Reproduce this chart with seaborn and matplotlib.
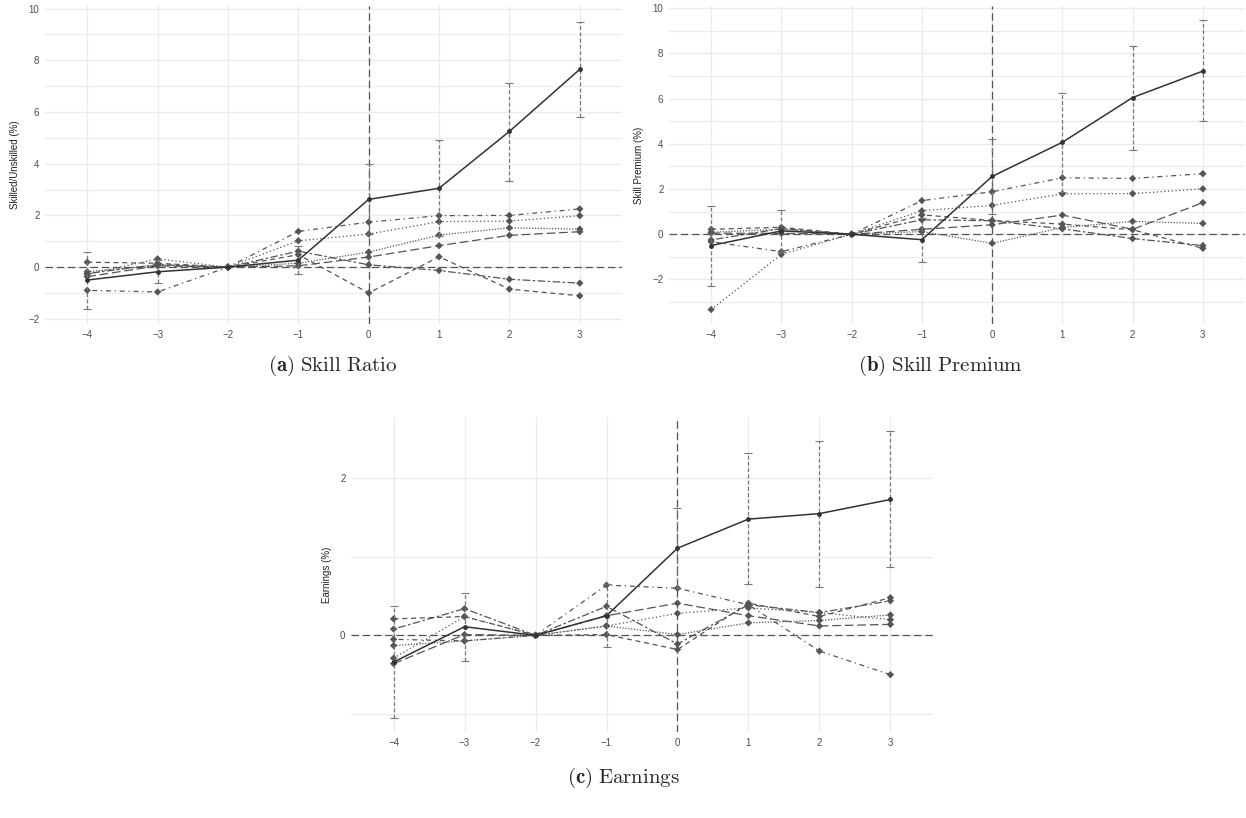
import matplotlib
matplotlib.use("Agg")
import matplotlib.pyplot as plt
import numpy as np
import pandas as pd
import seaborn as sns

# event time
periods = [-4, -3, -2, -1, 0, 1, 2, 3]
series_names = ["main", "s2", "s3", "s4", "s5", "s6", "s7"]

# (a) Skill Ratio
ratio_main = [-0.50, -0.18, 0.0, 0.27, 2.62, 3.05, 5.25, 7.65]
ratio_lo = [-1.63, -0.62, 0.0, -0.28, 1.30, 1.20, 3.33, 5.80]
ratio_hi = [0.57, 0.26, 0.0, 0.80, 4.00, 4.90, 7.12, 9.48]
ratio_s2 = [-0.90, -0.96, 0.0, 1.38, 1.74, 1.99, 2.00, 2.25]
ratio_s3 = [-0.28, 0.32, 0.0, 1.02, 1.28, 1.76, 1.78, 1.99]
ratio_s4 = [-0.18, 0.08, 0.0, 0.15, 0.58, 1.24, 1.52, 1.47]
ratio_s5 = [-0.37, 0.05, 0.0, 0.05, 0.39, 0.83, 1.23, 1.37]
ratio_s6 = [0.19, 0.15, 0.0, 0.48, -1.00, 0.40, -0.85, -1.11]
ratio_s7 = [-0.25, 0.10, 0.0, 0.62, 0.09, -0.13, -0.47, -0.62]

# (b) Skill Premium
prem_main = [-0.50, 0.15, 0.0, -0.24, 2.56, 4.07, 6.05, 7.22]
prem_lo = [-2.30, -0.79, 0.0, -1.22, 0.90, 1.86, 3.75, 5.01]
prem_hi = [1.26, 1.09, 0.0, 0.74, 4.23, 6.26, 8.33, 9.46]
prem_s2 = [-0.33, -0.77, 0.0, 1.49, 1.88, 2.50, 2.47, 2.68]
prem_s3 = [-3.33, -0.89, 0.0, 1.04, 1.28, 1.79, 1.80, 2.01]
prem_s4 = [0.09, 0.22, 0.0, 0.12, -0.40, 0.30, 0.57, 0.48]
prem_s5 = [0.05, 0.04, 0.0, 0.22, 0.42, 0.85, 0.22, 1.40]
prem_s6 = [0.22, 0.31, 0.0, 0.86, 0.61, 0.45, 0.20, -0.62]
prem_s7 = [-0.25, 0.25, 0.0, 0.64, 0.60, 0.24, -0.19, -0.50]

# (c) Earnings
earn_main = [-0.34, 0.11, 0.0, 0.25, 1.11, 1.48, 1.55, 1.73]
earn_lo = [-1.05, -0.32, 0.0, -0.15, 0.60, 0.65, 0.62, 0.87]
earn_hi = [0.37, 0.54, 0.0, 0.65, 1.62, 2.32, 2.47, 2.60]
earn_s2 = [-0.05, -0.07, 0.0, 0.64, 0.60, 0.39, -0.20, -0.50]
earn_s3 = [-0.29, 0.24, 0.0, 0.12, 0.28, 0.35, 0.29, 0.20]
earn_s4 = [-0.13, -0.07, 0.0, 0.12, 0.01, 0.16, 0.19, 0.26]
earn_s5 = [-0.36, 0.01, 0.0, 0.25, 0.41, 0.25, 0.12, 0.14]
earn_s6 = [0.21, 0.24, 0.0, 0.01, -0.18, 0.41, 0.24, 0.48]
earn_s7 = [0.08, 0.34, 0.0, 0.37, -0.11, 0.39, 0.29, 0.44]

dash_map = {"main": "", "s2": (1, 3, 4, 3), "s3": (1, 2), "s4": (1, 1.3),
            "s5": (7, 3), "s6": (4, 3), "s7": (2, 2, 6, 2)}

sns.set_style("white")
plt.rcParams["font.family"] = ["Liberation Sans", "DejaVu Sans"]
plt.rcParams["mathtext.fontset"] = "cm"

fig = plt.figure(figsize=(12.46, 8.18), dpi=100)
W, H = 1246, 818


def add_ax(left, top, right, bottom):
    return fig.add_axes([left / W, 1 - bottom / H, (right - left) / W, (bottom - top) / H])


def panel(ax, main, lo, hi, others, ylim, yticks, yminor, ylabel):
    rows = []
    for name, vals in zip(series_names, [main] + others):
        for t, v in zip(periods, vals):
            rows.append({"t": t, "v": v, "series": name})
    df = pd.DataFrame(rows)

    ax.set_xlim(-4.6, 3.6)
    ax.set_ylim(*ylim)
    ax.set_xticks(periods)
    ax.set_yticks(yticks)
    ax.set_yticks(yminor, minor=True)
    ax.grid(True, which="major", color="#ebebeb", linewidth=1.0)
    ax.grid(True, which="minor", axis="y", color="#ebebeb", linewidth=0.8)
    ax.set_axisbelow(True)
    for s in ax.spines.values():
        s.set_visible(False)

    ax.axhline(0, color="#555555", linestyle=(0, (6, 3)), linewidth=0.9)
    ax.axvline(0, color="#555555", linestyle=(0, (6, 3)), linewidth=0.9)

    err = np.array([np.array(main) - np.array(lo), np.array(hi) - np.array(main)])
    eb = ax.errorbar(periods, main, yerr=err, fmt="none", ecolor="#777777",
                     elinewidth=0.9, capsize=3, capthick=0.8)
    eb[2][0].set_linestyle((0, (3, 2)))

    others_df = df[df["series"] != "main"]
    sns.lineplot(data=others_df, x="t", y="v", style="series", dashes=dash_map,
                 markers=False, color="#555555", linewidth=0.9, legend=False, ax=ax)
    sns.scatterplot(data=others_df, x="t", y="v", color="#555555", s=14,
                    marker="D", edgecolor="none", legend=False, ax=ax)
    main_df = df[df["series"] == "main"]
    sns.lineplot(data=main_df, x="t", y="v", color="#333333", linewidth=1.1,
                 marker="o", markersize=3.5, markeredgewidth=0, legend=False, ax=ax)

    ax.set_xticklabels(["\u22124", "\u22123", "\u22122", "\u22121", "0", "1", "2", "3"])
    ax.set_yticklabels([str(int(t)).replace("-", "\u2212") for t in yticks])
    ax.tick_params(axis="both", which="both", length=0, labelsize=7, labelcolor="#4d4d4d", pad=4)
    ax.set_xlabel("")
    ax.set_ylabel(ylabel, fontsize=7, color="#222222", labelpad=6)


ax_a = add_ax(45, 6, 622, 324)
panel(ax_a, ratio_main, ratio_lo, ratio_hi,
      [ratio_s2, ratio_s3, ratio_s4, ratio_s5, ratio_s6, ratio_s7],
      (-2.2, 10.1), [-2, 0, 2, 4, 6, 8, 10], [-1, 1, 3, 5, 7, 9], "Skilled/Unskilled (%)")

ax_b = add_ax(669, 6, 1245, 324)
panel(ax_b, prem_main, prem_lo, prem_hi,
      [prem_s2, prem_s3, prem_s4, prem_s5, prem_s6, prem_s7],
      (-3.97, 10.1), [-2, 0, 2, 4, 6, 8, 10], [-3, -1, 1, 3, 5, 7, 9], "Skill Premium (%)")

ax_c = add_ax(351, 417, 933, 732)
panel(ax_c, earn_main, earn_lo, earn_hi,
      [earn_s2, earn_s3, earn_s4, earn_s5, earn_s6, earn_s7],
      (-1.23, 2.78), [0, 2], [-1, 1], "Earnings (%)")

fig.text(333 / W, 1 - 366 / H, r"$\mathbf{(a)}$ $\mathrm{Skill\ Ratio}$", ha="center", va="center", fontsize=15)
fig.text(940 / W, 1 - 366 / H, r"$\mathbf{(b)}$ $\mathrm{Skill\ Premium}$", ha="center", va="center", fontsize=15)
fig.text(623 / W, 1 - 778 / H, r"$\mathbf{(c)}$ $\mathrm{Earnings}$", ha="center", va="center", fontsize=15)

fig.savefig("out.png", dpi=100)
